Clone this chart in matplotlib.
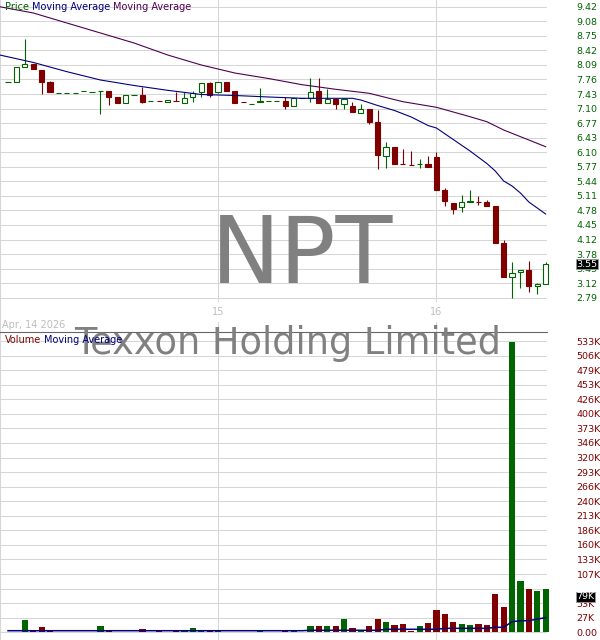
import matplotlib
matplotlib.use("Agg")
import matplotlib.pyplot as plt
import matplotlib.transforms as mtransforms
from matplotlib.patches import Rectangle
import numpy as np

plt.rcParams['font.family'] = ['DejaVu Sans']

# ---------------- data ----------------
symbol = "NPT"
company = "Texxon Holding Limited"
first_date_label = "Apr, 14 2026"
day_labels = ["15", "16"]
day_start_idx = [25, 51]

opens = [7.70, 7.70, 8.04, 8.11, 7.98, 7.71, 7.45, 7.45, 7.45, 7.49,
         7.48, 7.49, 7.49, 7.36, 7.22, 7.40, 7.40, 7.27, 7.27, 7.24,
         7.28, 7.23, 7.36, 7.47, 7.68, 7.48, 7.70, 7.50, 7.25, 7.20,
         7.26, 7.265, 7.265, 7.27, 7.16, 7.33, 7.33, 7.50, 7.22, 7.31,
         7.20, 7.16, 6.99, 7.09, 6.79, 6.01, 6.22, 5.83, 5.815, 5.83,
         5.84, 5.99, 5.24, 4.95, 4.85, 4.97, 4.98, 4.96, 4.88, 4.04,
         3.26, 3.37, 3.42, 3.05, 3.10]
highs = [7.70, 8.04, 8.68, 8.11, 7.98, 7.73, 7.45, 7.45, 7.45, 7.51,
         7.48, 7.49, 7.49, 7.36, 7.40, 7.40, 7.60, 7.27, 7.27, 7.29,
         7.48, 7.48, 7.49, 7.68, 7.70, 7.70, 7.70, 7.50, 7.25, 7.20,
         7.56, 7.265, 7.265, 7.37, 7.33, 7.33, 7.79, 7.79, 7.54, 7.31,
         7.32, 7.25, 7.20, 7.09, 7.07, 6.34, 6.22, 6.17, 6.14, 5.94,
         6.02, 6.12, 5.29, 4.95, 5.13, 5.24, 5.11, 5.01, 4.88, 4.10,
         3.61, 3.42, 3.63, 3.13, 3.60]
lows = [7.70, 7.70, 8.04, 7.99, 7.42, 7.47, 7.45, 7.45, 7.45, 7.49,
        7.48, 6.98, 7.18, 7.23, 7.22, 7.40, 7.22, 7.27, 7.265, 7.24,
        7.275, 7.23, 7.25, 7.37, 7.36, 7.46, 7.51, 7.23, 7.245, 7.20,
        7.26, 7.265, 7.265, 7.10, 7.16, 7.33, 7.26, 7.23, 7.22, 7.08,
        7.10, 7.01, 6.99, 6.75, 5.72, 5.74, 5.83, 5.825, 5.81, 5.74,
        5.76, 5.25, 4.89, 4.70, 4.75, 4.97, 4.90, 4.88, 4.04, 3.27,
        2.78, 3.02, 2.93, 2.87, 3.10]
closes = [7.70, 8.04, 8.11, 7.99, 7.71, 7.47, 7.45, 7.45, 7.45, 7.49,
          7.48, 7.49, 7.37, 7.23, 7.40, 7.40, 7.25, 7.27, 7.265, 7.29,
          7.275, 7.35, 7.46, 7.68, 7.41, 7.70, 7.51, 7.23, 7.245, 7.20,
          7.28, 7.265, 7.265, 7.16, 7.33, 7.33, 7.48, 7.23, 7.31, 7.20,
          7.32, 7.01, 7.08, 6.79, 6.03, 6.22, 5.83, 5.825, 5.81, 5.83,
          5.76, 5.25, 5.00, 4.80, 4.96, 4.985, 4.975, 4.88, 4.04, 3.27,
          3.35, 3.42, 3.06, 3.10, 3.55]
volumes = [1000, 1000, 22500, 3500, 9700, 3500, 500, 500, 500, 500,
           500, 11500, 3500, 1000, 1000, 1000, 6000, 1000, 3500, 1000,
           3500, 3500, 7800, 3500, 3500, 3500, 1000, 1000, 1000, 1000,
           3500, 1000, 1000, 3500, 3500, 1000, 11500, 11500, 11500, 11500,
           24300, 7900, 3500, 11500, 24300, 18800, 13300, 15200, 2000, 11500,
           17600, 40800, 33500, 18800, 15200, 13300, 15200, 13300, 70000, 46000,
           531000, 94000, 79000, 75600, 79000]
volume_ma = [2900] * 36 + [3700] * 9 + [5500] * 7 + [7300] * 6 + [9100] * 2 + \
            [19400, 21200, 21200, 24300, 26700]

# price moving averages (bar index, value)
ma_fast_idx = [-1, 3, 7, 11, 15, 19, 23, 27, 31, 35, 41, 42, 44, 46, 48, 50,
               51, 53, 55, 57, 58, 59, 60, 61, 62, 63, 64]
ma_fast_val = [8.32, 8.15, 7.94, 7.75, 7.625, 7.515, 7.42, 7.397, 7.363, 7.333,
               7.333, 7.294, 7.169, 7.055, 6.907, 6.713, 6.656, 6.394, 6.132,
               5.847, 5.677, 5.449, 5.335, 5.175, 4.97, 4.834, 4.697]
ma_slow_idx = [-1, 3, 7, 11, 15, 19, 23, 27, 31, 35, 39, 43, 47, 51, 55, 57,
               59, 62, 64]
ma_slow_val = [9.42, 9.277, 9.049, 8.821, 8.593, 8.32, 8.092, 7.909, 7.784,
               7.643, 7.538, 7.447, 7.256, 7.128, 6.914, 6.80, 6.611, 6.383, 6.23]

price_tick_labels = ["9.42", "9.08", "8.75", "8.42", "8.09", "7.76", "7.43",
                     "7.10", "6.77", "6.43", "6.10", "5.77", "5.44", "5.11",
                     "4.78", "4.45", "4.12", "3.78", "3.45", "3.12", "2.79"]
volume_tick_labels = ["0.00", "27K", "53K", "", "107K", "133K", "160K", "186K",
                      "213K", "240K", "266K", "293K", "320K", "346K", "373K",
                      "400K", "426K", "453K", "479K", "506K", "533K"]
last_volume_label = "79K"

# ---------------- style ----------------
GREEN = '#006400'
RED = '#800000'
NAVY = '#000080'
PURPLE = '#500050'
GRID = '#d6d6d6'
LIGHT = '#bdbdbd'

W, H = 600, 640
fig = plt.figure(figsize=(W / 100, H / 100), dpi=100, facecolor='white')


def fx(px):
    return px / W


def fy(py):
    return 1 - py / H


PLOT_R = 547
SPLIT = 332
ax_p = fig.add_axes([0, fy(SPLIT), PLOT_R / W, SPLIT / H])
ax_v = fig.add_axes([0, 0, PLOT_R / W, (H - SPLIT) / H])

# x scale: bar spacing 8.4 px, first bar at 8.05 px
step_px, x0_px = 8.4, 8.05
xlim = (-x0_px / step_px, (PLOT_R - x0_px) / step_px)

# price scale
kp = (9.42 - 2.79) / (297.7 - 6.7)
p_top = 9.42 + 6.7 * kp
p_bot = 9.42 - (SPLIT - 6.7) * kp
# volume scale
kv = 533000 / (632.3 - 341)
v_top = 533000 + (341 - SPLIT) * kv
v_bot = -(640 - 632.3) * kv

for ax in (ax_p, ax_v):
    ax.set_xlim(*xlim)
    for s in ax.spines.values():
        s.set_visible(False)
    ax.set_xticks([])
    ax.yaxis.tick_right()
    ax.tick_params(axis='y', length=0, pad=21.3, labelsize=6.8)
    ax.grid(axis='y', color=GRID, lw=0.75, zorder=0)
    ax.set_axisbelow(True)
    for d in day_start_idx:
        ax.axvline(d, color=GRID, lw=0.75, zorder=0.5)
    ax.axvline(xlim[0] + 0.05, color=GRID, lw=0.75, zorder=0.5)

ax_p.set_ylim(p_bot, p_top)
ax_p.set_yticks(np.linspace(9.42, 2.79, 21), price_tick_labels)
ax_p.tick_params(axis='y', labelcolor=GREEN)

ax_v.set_ylim(v_bot, v_top)
ax_v.set_yticks(np.linspace(0, 533000, 21), volume_tick_labels)
ax_v.tick_params(axis='y', labelcolor=RED)
ax_v.spines['top'].set_visible(True)
ax_v.spines['top'].set_color('#666666')
ax_v.spines['top'].set_linewidth(0.8)

# candles
body_w = 0.62
idx = np.arange(len(opens))
for i, o, h, l, c in zip(idx, opens, highs, lows, closes):
    up = c >= o
    col = GREEN if up else RED
    top, bot = max(o, c), min(o, c)
    if h > l:
        ax_p.vlines(i, l, h, color=col, lw=0.8, zorder=2)
    ax_p.add_patch(Rectangle((i - body_w / 2, bot), body_w, max(top - bot, 0.001),
                             facecolor='white' if up else col, edgecolor=col,
                             lw=0.8, zorder=3, clip_on=False))

ax_p.plot(ma_fast_idx, ma_fast_val, color=NAVY, lw=0.8, zorder=4)
ax_p.plot(ma_slow_idx, ma_slow_val, color=PURPLE, lw=0.8, zorder=4)

# volume
vcolors = [GREEN if c >= o else RED for o, c in zip(opens, closes)]
ax_v.bar(idx, volumes, width=0.74, color=vcolors, zorder=2, clip_on=False)
ax_v.plot(idx, volume_ma, color=NAVY, lw=1.1, zorder=3)

# last value boxes
box = dict(boxstyle='square,pad=0.06', fc='black', ec='#999999', lw=0.6)
tp = mtransforms.blended_transform_factory(ax_p.transAxes, ax_p.transData)
ax_p.text(576.5 / PLOT_R, closes[-1], f"{closes[-1]:.2f}", transform=tp,
          ha='left', va='center', fontsize=6.8, color='white', zorder=10,
          clip_on=False, bbox=box)
tv = mtransforms.blended_transform_factory(ax_v.transAxes, ax_v.transData)
tv = mtransforms.offset_copy(tv, fig=fig, y=-3.0, units='dots')
ax_v.text(576.5 / PLOT_R, volumes[-1], last_volume_label, transform=tv,
          ha='left', va='top', fontsize=6.8, color='white', zorder=10,
          clip_on=False, bbox=box)

# x labels (day starts)
tx = mtransforms.blended_transform_factory(ax_p.transData, fig.transFigure)
for d, lab in zip(day_start_idx, day_labels):
    ax_p.text(d, fy(315), lab, transform=tx, ha='center', va='baseline',
              fontsize=7, color=LIGHT, zorder=6, clip_on=False,
              bbox=dict(boxstyle='square,pad=0.5', fc='white', ec='none'))
fig.text(fx(2.5), fy(328.3), first_date_label, fontsize=7, color=LIGHT,
         ha='left', va='baseline', zorder=4)

# watermarks
fig.text(fx(302), fy(283.3), symbol, fontsize=67, color='#808080',
         ha='center', va='baseline', zorder=3)
fig.text(fx(288), fy(354), company, fontsize=26.5, color='#808080',
         ha='center', va='baseline', zorder=3)

# legends (multi-coloured)
renderer = fig.canvas.get_renderer()


def color_run(xpx, ypx, parts, size=7):
    x = xpx
    space = size * 100 / 72 * 0.318
    for s, c in parts:
        t = fig.text(fx(x), fy(ypx), s, color=c, fontsize=size,
                     ha='left', va='baseline', zorder=8)
        bb = t.get_window_extent(renderer)
        x += bb.width + space


color_run(4.5, 10, [("Price", GREEN), ("Moving Average", NAVY),
                    ("Moving Average", PURPLE)])
color_run(4.5, 343.3, [("Volume", RED), ("Moving Average", NAVY)])

fig.savefig("out.png", dpi=100, facecolor='white')
